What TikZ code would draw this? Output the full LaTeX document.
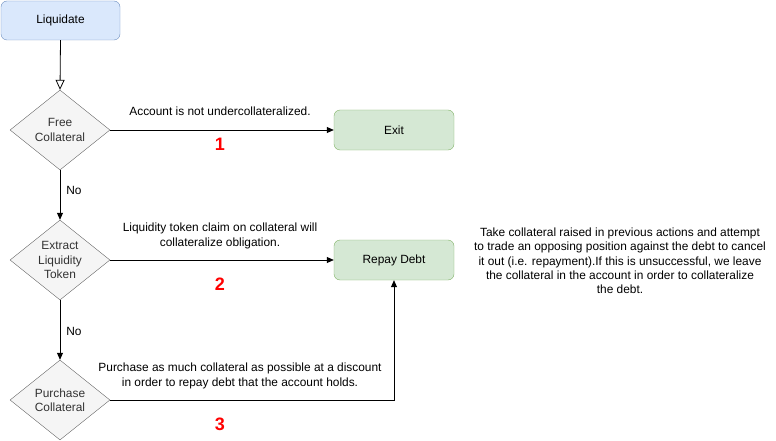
\documentclass[tikz,border=0pt]{standalone}
\usepackage{fontspec}
\setmainfont{Liberation Sans}
\usetikzlibrary{shapes.geometric,arrows.meta}
\definecolor{bfill}{HTML}{DAE8FC}
\definecolor{bline}{HTML}{6C8EBF}
\definecolor{gfill}{HTML}{D5E8D4}
\definecolor{gline}{HTML}{82B366}
\definecolor{dfill}{HTML}{F5F5F5}
\definecolor{dline}{HTML}{666666}
\definecolor{dtext}{HTML}{333333}
\begin{document}
\begin{tikzpicture}[x=1pt,y=-1pt,
  every node/.style={font=\fontsize{11.9}{14.3}\selectfont, inner sep=0pt},
  startbox/.style={draw=bline, fill=bfill, rounded corners=6pt, minimum width=119pt, minimum height=39pt},
  endbox/.style={draw=gline, fill=gfill, rounded corners=6pt, minimum width=120pt, minimum height=40pt},
  decision/.style={draw=dline, fill=dfill, diamond, aspect=1.25, minimum width=100pt, minimum height=80pt, text=dtext, align=center},
  lbl/.style={align=center},
  num/.style={text=red, font=\fontsize{18}{18}\selectfont\bfseries},
  conn/.style={draw, -{Triangle[length=7pt,width=6pt]}, line width=0.8pt},
  conno/.style={draw, -{Triangle[open,length=10pt,width=9pt]}, line width=0.8pt}
]
\useasboundingbox (0,0) rectangle (776,441);
\node[startbox] (liq) at (60.5,20.5) {Liquidate};
\node[decision] (d1) at (60,130) {Free\\Collateral};
\node[decision] (d2) at (60,260) {Extract\\Liquidity\\Token};
\node[decision] (d3) at (60,400) {Purchase\\Collateral};
\node[endbox] (exit) at (394,130) {Exit};
\node[endbox] (repay) at (394,260) {Repay Debt};
\coordinate (corner) at (394,400);

\draw[conno] (liq.south) -- (d1.north);
\draw[conn] (d1.east) -- (exit.west);
\draw[conn] (d1.south) -- (d2.north);
\draw[conn] (d2.east) -- (repay.west);
\draw[conn] (d2.south) -- (d3.north);
\draw[conn] (d3.east) -- (corner) -- (repay.south);

\node[lbl] (t1) at (220,111) {Account is not undercollateralized.};
\node[num] (n1) at (220,144) {1};
\node[lbl] (no1) at (74,190) {No};
\node[lbl] (t2) at (220,236) {Liquidity token claim on collateral will\\collateralize obligation.};
\node[num] (n2) at (220,284) {2};
\node[lbl] (no2) at (74,331) {No};
\node[lbl] (t3) at (240,376) {Purchase as much collateral as possible at a discount\\in order to repay debt that the account holds.};
\node[num] (n3) at (220,424) {3};
\node[lbl, text=black] (t4) at (620,261) {Take collateral raised in previous actions and attempt\\to trade an opposing position against the debt to cancel\\it out (i.e. repayment).If this is unsuccessful, we leave\\the collateral in the account in order to collateralize\\the debt.};
\end{tikzpicture}
\end{document}
